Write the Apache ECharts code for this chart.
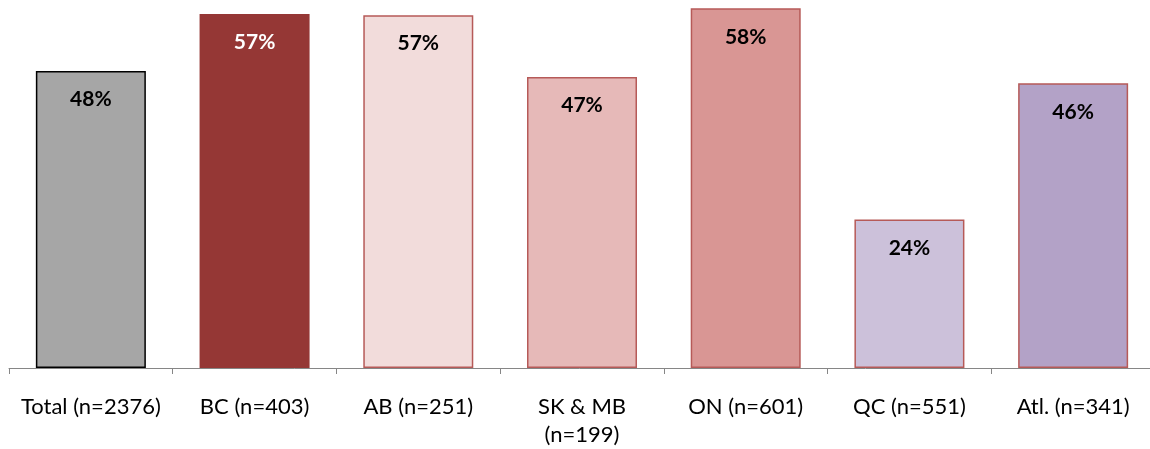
<!DOCTYPE html>
<html>
<head>
<meta charset="utf-8">
<script src="https://cdn.jsdelivr.net/npm/echarts@6/dist/echarts.min.js"></script>
<style>html,body{margin:0;padding:0;background:#fff}#c{width:1150px;height:449px}</style>
</head>
<body>
<div id="c"></div>
<script>
var categories = ['Total (n=2376)', 'BC (n=403)', 'AB (n=251)', 'SK & MB\n(n=199)', 'ON (n=601)', 'QC (n=551)', 'Atl. (n=341)'];
var values = [48, 57.2, 57, 47, 58.1, 24, 46];
var valueLabels = ['48%', '57%', '57%', '47%', '58%', '24%', '46%'];
var fillColors = ['#A6A6A6', '#953735', '#F2DCDB', '#E6B9B8', '#D99694', '#CCC1DA', '#B3A2C7'];
var borderColors = ['#000000', '#953735', '#B65A58', '#B65A58', '#B65A58', '#B65A58', '#B65A58'];
var labelColors = ['#000', '#fff', '#000', '#000', '#000', '#000', '#000'];

var chart = echarts.init(document.getElementById('c'));
chart.setOption({
  animation: false,
  grid: { left: 9, right: -5, top: 0, height: 368, outerBoundsMode: 'none', containLabel: false },
  xAxis: {
    type: 'category',
    data: categories,
    axisLine: { lineStyle: { color: '#868686', width: 1 } },
    axisTick: { show: true, length: 6, lineStyle: { color: '#868686' } },
    axisLabel: { color: '#000', fontFamily: 'Lato', fontSize: 22, margin: 25, lineHeight: 28, interval: 0 }
  },
  yAxis: {
    type: 'value', min: 0, max: 59.45, show: false, splitLine: { show: false }
  },
  series: [{
    type: 'bar',
    barWidth: 110,
    data: values.map(function (v, i) {
      return {
        value: v,
        itemStyle: { color: fillColors[i], borderColor: borderColors[i], borderWidth: i === 1 ? 0 : 1.5 },
        label: { color: labelColors[i], formatter: valueLabels[i] }
      };
    }),
    label: { show: true, position: 'insideTop', distance: 18, fontFamily: 'Lato', fontWeight: 'bold', fontSize: 21 }
  }]
});
</script>
</body>
</html>
